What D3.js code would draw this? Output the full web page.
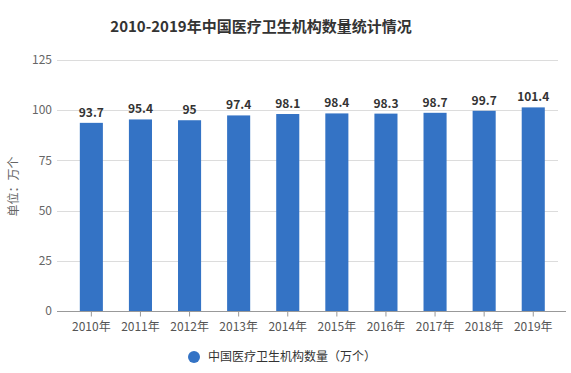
<!DOCTYPE html>
<html>
<head>
<meta charset="utf-8">
<script src="https://cdn.jsdelivr.net/npm/d3@7"></script>
<style>
  body { margin: 0; background: #fff; }
  svg { display: block; font-family: "Microsoft YaHei", "Noto Sans CJK SC", sans-serif; }
</style>
</head>
<body>
<div id="chart"></div>
<script>
var years = ['2010年', '2011年', '2012年', '2013年', '2014年', '2015年', '2016年', '2017年', '2018年', '2019年'];
var counts = [93.7, 95.4, 95, 97.4, 98.1, 98.4, 98.3, 98.7, 99.7, 101.4];
var yTicks = [0, 25, 50, 75, 100, 125];
var seriesName = '中国医疗卫生机构数量（万个）';
var chartTitle = '2010-2019年中国医疗卫生机构数量统计情况';
var unitLabel = '单位：万个';

var width = 571, height = 373;
var plot = { left: 57, right: 558, top: 60, bottom: 311 };
var barColor = '#3473c5';

var svg = d3.select('#chart').append('svg')
    .attr('width', width)
    .attr('height', height);

// bars sit a little right of the grid start, like the source
var x = d3.scaleBand()
    .domain(years)
    .range([66.8, 557.8])
    .paddingInner(0.53)
    .paddingOuter(0.265);

var y = d3.scaleLinear()
    .domain([0, 125])
    .range([plot.bottom, plot.top]);

// title
svg.append('text')
    .attr('x', 261)
    .attr('y', 32)
    .attr('text-anchor', 'middle')
    .attr('font-size', 15)
    .attr('font-weight', 'bold')
    .attr('fill', '#333')
    .text(chartTitle);

// grid lines
svg.append('g')
    .selectAll('line')
    .data(yTicks.filter(function(d) { return d > 0; }))
    .enter().append('line')
    .attr('x1', plot.left)
    .attr('x2', plot.right)
    .attr('y1', function(d) { return Math.round(y(d)) + 0.5; })
    .attr('y2', function(d) { return Math.round(y(d)) + 0.5; })
    .attr('stroke', '#dcdcdc');

// y axis labels
svg.append('g')
    .selectAll('text')
    .data(yTicks)
    .enter().append('text')
    .attr('x', 52)
    .attr('y', function(d) { return y(d); })
    .attr('dy', '0.35em')
    .attr('text-anchor', 'end')
    .attr('font-size', 12)
    .attr('fill', '#666')
    .text(function(d) { return d; });

// unit label
svg.append('text')
    .attr('transform', 'translate(18,' + y(62) + ') rotate(-90)')
    .attr('text-anchor', 'middle')
    .attr('font-size', 12)
    .attr('fill', '#666')
    .text(unitLabel);

// bars
svg.append('g')
    .selectAll('rect')
    .data(counts)
    .enter().append('rect')
    .attr('x', function(d, i) { return x(years[i]); })
    .attr('y', function(d) { return y(d); })
    .attr('width', x.bandwidth())
    .attr('height', function(d) { return y(0) - y(d); })
    .attr('fill', barColor);

// value labels
svg.append('g')
    .selectAll('text')
    .data(counts)
    .enter().append('text')
    .attr('x', function(d, i) { return x(years[i]) + x.bandwidth() / 2; })
    .attr('y', function(d) { return y(d) - 6; })
    .attr('text-anchor', 'middle')
    .attr('font-size', 12)
    .attr('font-weight', 'bold')
    .attr('fill', '#333')
    .text(function(d) { return d; });

// x axis
var axisY = Math.round(y(0)) + 0.5;
var xAxis = svg.append('g')
    .attr('transform', 'translate(0,' + axisY + ')')
    .call(d3.axisBottom(x).tickSize(5).tickSizeOuter(0));
xAxis.select('.domain').remove();
xAxis.selectAll('.tick line').attr('stroke', '#999');
xAxis.selectAll('.tick text')
    .attr('font-size', 12)
    .attr('fill', '#555')
    .attr('dy', '0.95em')
    .style('font-family', '"Microsoft YaHei", "Noto Sans CJK SC", sans-serif');
svg.append('line')
    .attr('x1', plot.left)
    .attr('x2', 566)
    .attr('y1', axisY)
    .attr('y2', axisY)
    .attr('stroke', '#999');

// legend
var legend = svg.append('g').attr('transform', 'translate(194,357)');
legend.append('circle')
    .attr('r', 6)
    .attr('fill', barColor);
legend.append('text')
    .attr('x', 14)
    .attr('dy', '0.35em')
    .attr('font-size', 12)
    .attr('fill', '#333')
    .text(seriesName);
</script>
</body>
</html>
